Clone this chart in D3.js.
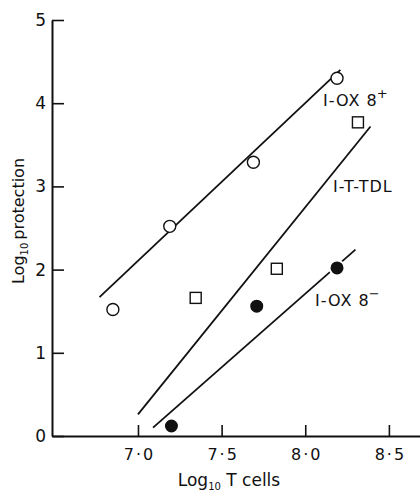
<!DOCTYPE html>
<head>
<meta charset="utf-8">
<style>
body { margin: 0; background: #fff; }
text { font-family: "DejaVu Sans", sans-serif; fill: #111; }
</style>
</head>
<body>
<script src="https://d3js.org/d3.v7.min.js"></script>
<script>
var width = 420, height = 493;

// data (log10 T cells, log10 protection)
var oxPlusX = [6.85, 7.19, 7.69, 8.19];
var oxPlusY = [1.52, 2.52, 3.29, 4.30];
var tdlX = [7.345, 7.83, 8.315];
var tdlY = [1.66, 2.01, 3.77];
var oxMinusX = [7.2, 7.71, 8.19];
var oxMinusY = [0.12, 1.56, 2.02];

// fitted lines (ends)
var oxPlusLine = [[6.77, 1.67], [8.21, 4.40]];
var tdlLine = [[7.0, 0.26], [8.39, 3.72]];
var oxMinusLine = [[7.09, 0.10], [8.30, 2.24]];

var xTicks = [7.0, 7.5, 8.0, 8.5];
var yTicks = [0, 1, 2, 3, 4, 5];

var x = d3.scaleLinear().domain([6.486, 8.686]).range([52, 420]);
var y = d3.scaleLinear().domain([0, 5]).range([436, 20]);

var svg = d3.select("body").append("svg")
    .attr("width", width)
    .attr("height", height);

// axes
var xAxis = svg.append("g")
    .attr("transform", "translate(0," + y(0) + ")")
    .call(d3.axisTop(x).tickValues(xTicks).tickSize(11).tickSizeOuter(0)
      .tickFormat(function(d) { return d3.format(".1f")(d).replace(".", "\u00b7"); }));
xAxis.select(".domain").attr("stroke", "#111").attr("stroke-width", 2);
xAxis.selectAll(".tick line").attr("stroke", "#111").attr("stroke-width", 1.6);
xAxis.selectAll(".tick text")
    .attr("y", 24)
    .attr("dy", 0)
    .attr("dx", 1)
    .style("font-size", "16px")
    .style("letter-spacing", "2px");

var yAxis = svg.append("g")
    .attr("transform", "translate(" + x.range()[0] + ",0)")
    .call(d3.axisRight(y).tickValues(yTicks).tickSize(12).tickSizeOuter(0)
      .tickFormat(d3.format("d")));
yAxis.select(".domain").attr("stroke", "#111").attr("stroke-width", 2);
yAxis.selectAll(".tick line").attr("stroke", "#111").attr("stroke-width", 1.6);
yAxis.selectAll(".tick text")
    .attr("x", -6)
    .attr("text-anchor", "end")
    .style("font-size", "17px");

// axis titles
var xt = svg.append("text")
    .attr("x", 229).attr("y", 486)
    .attr("text-anchor", "middle")
    .style("font-size", "17px");
xt.append("tspan").text("Log");
xt.append("tspan").text("10").attr("dy", 4).style("font-size", "10px");
xt.append("tspan").text(" T cells").attr("dy", -4);

var yt = svg.append("text")
    .attr("transform", "translate(24,221) rotate(-90)")
    .attr("text-anchor", "middle")
    .style("font-size", "16px");
yt.append("tspan").text("Log");
yt.append("tspan").text("10").attr("dy", 4).style("font-size", "10px");
yt.append("tspan").text("protection").attr("dy", -4).attr("dx", 3);

// lines
var line = d3.line().x(function(d) { return x(d[0]); }).y(function(d) { return y(d[1]); });
[oxPlusLine, tdlLine, oxMinusLine].forEach(function(l) {
  svg.append("path")
      .attr("d", line(l))
      .attr("fill", "none")
      .attr("stroke", "#111")
      .attr("stroke-width", 1.8);
});

// open circles
svg.selectAll(".oplus")
    .data(d3.zip(oxPlusX, oxPlusY))
    .enter().append("circle")
    .attr("cx", function(d) { return x(d[0]); })
    .attr("cy", function(d) { return y(d[1]); })
    .attr("r", 6)
    .attr("fill", "#fff")
    .attr("stroke", "#111")
    .attr("stroke-width", 1.4);

// squares
svg.selectAll(".tdl")
    .data(d3.zip(tdlX, tdlY))
    .enter().append("rect")
    .attr("x", function(d) { return x(d[0]) - 5.5; })
    .attr("y", function(d) { return y(d[1]) - 5.5; })
    .attr("width", 11).attr("height", 11)
    .attr("fill", "#fff")
    .attr("stroke", "#111")
    .attr("stroke-width", 1.4);

// filled circles
svg.selectAll(".ominus")
    .data(d3.zip(oxMinusX, oxMinusY))
    .enter().append("circle")
    .attr("cx", function(d) { return x(d[0]); })
    .attr("cy", function(d) { return y(d[1]); })
    .attr("r", 7.5)
    .attr("fill", "#111")
    .attr("stroke", "#fff")
    .attr("stroke-width", 2);

// series labels
function label(tx, ty, main, sup) {
  var t = svg.append("text")
      .attr("x", x(tx)).attr("y", y(ty))
      .style("font-size", "16px")
      .style("letter-spacing", "1px");
  t.append("tspan").text(main);
  if (sup) t.append("tspan").text(sup).attr("dy", -8).attr("dx", -1).style("font-size", "13px");
}
label(8.106, 3.966, "I-OX 8", "+");
label(8.166, 2.93, "I-T-TDL");
label(8.058, 1.5625, "I-OX 8", "\u2212");
</script>
</body>
</html>
